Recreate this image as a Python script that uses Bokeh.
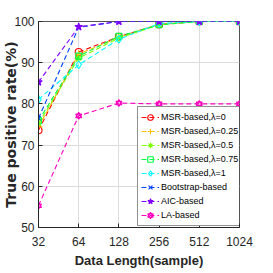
from bokeh.plotting import figure
from bokeh.models import Range1d, FixedTicker, Legend, LegendItem
from bokeh.embed import file_html
from bokeh.resources import INLINE

# ---- data ----
data_length = [32, 64, 128, 256, 512, 1024]
y_ticks = [50, 60, 70, 80, 90, 100]
msr_l0 = [73.6, 92.6, 96.3, 99.3, 100, 100]
msr_l025 = [74.4, 92.1, 96.1, 99.4, 100, 100]
msr_l05 = [75.3, 91.1, 96.0, 99.2, 100, 100]
msr_l075 = [75.9, 91.6, 96.4, 99.2, 100, 100]
msr_l1 = [81.1, 89.5, 95.7, 99.5, 100, 100]
bootstrap = [76.5, 98.6, 100, 100, 100, 100]
aic = [85.3, 98.7, 100, 100, 100, 100]
la = [55.3, 77.1, 80.2, 80.0, 80.0, 80.0]
series_names = ["MSR-based,\u03bb=0", "MSR-based,\u03bb=0.25", "MSR-based,\u03bb=0.5",
                "MSR-based,\u03bb=0.75", "MSR-based,\u03bb=1", "Bootstrap-based",
                "AIC-based", "LA-based"]
series_values = [msr_l0, msr_l025, msr_l05, msr_l075, msr_l1, bootstrap, aic, la]

colors = ["#ff0000", "#ffbf00", "#80ff00", "#00ff40", "#00ffff", "#0040ff", "#8000ff", "#ff00bf"]
markers = [["circle"], ["cross"], ["asterisk"], ["square"], ["diamond"], ["x"], ["star"],
           ["triangle", "inverted_triangle"]]
sizes = [7, 8, 7, 6, 8, 6, 8, 6]
filled = [False, False, False, False, False, False, True, False]

FONT = "Liberation Sans"
TXT = "#262626"

p = figure(width=257, height=270, x_axis_type="log",
           x_range=Range1d(32, 1024), y_range=Range1d(50, 100),
           output_backend="svg", toolbar_location=None,
           min_border_left=32, min_border_right=18, min_border_top=21, min_border_bottom=42)

items = []
for name, vals, c, mk, sz, fl in zip(series_names, series_values, colors, markers, sizes, filled):
    rs = [p.line(data_length, vals, line_color=c, line_width=1.1, line_dash="5 3")]
    for m in mk:
        rs.append(p.scatter(data_length, vals, marker=m, size=sz, line_color=c, line_width=1.1,
                            fill_color=c if fl else None))
    items.append(LegendItem(label=name, renderers=rs))

legend = Legend(items=items, location=(99, 1), border_line_color=TXT, border_line_width=1,
                background_fill_color="white", background_fill_alpha=1.0,
                label_text_font=FONT, label_text_font_size="9px",
                label_text_color="#000000",
                glyph_width=18, glyph_height=14, label_height=14, spacing=0, padding=3,
                margin=0, label_standoff=2)
p.add_layout(legend)

for ax in (p.xaxis, p.yaxis):
    ax.major_tick_in = 4
    ax.major_tick_out = 0
    ax.minor_tick_line_color = None
    ax.axis_line_color = TXT
    ax.major_tick_line_color = TXT
    ax.major_label_text_color = TXT
    ax.major_label_text_font = FONT
    ax.major_label_text_font_size = "12px"
    ax.axis_label_text_color = TXT
    ax.axis_label_text_font_style = "bold"

p.xaxis.ticker = FixedTicker(ticks=data_length)
p.xaxis.major_label_overrides = {v: str(v) for v in data_length}
p.xaxis.major_label_standoff = 9
p.xaxis.axis_label = "Data Length(sample)"
p.xaxis.axis_label_text_font = FONT
p.xaxis.axis_label_text_font_size = "13px"
p.xaxis.axis_label_standoff = 4

p.yaxis.ticker = FixedTicker(ticks=y_ticks)
p.yaxis.major_label_standoff = 4
p.yaxis.axis_label = "True positive rate(%)"
p.yaxis.axis_label_text_font = "DejaVu Sans"
p.yaxis.axis_label_text_font_size = "14px"
p.yaxis.axis_label_standoff = -8

p.xgrid.ticker = FixedTicker(ticks=data_length)
p.ygrid.ticker = FixedTicker(ticks=y_ticks)
p.grid.grid_line_color = "#dcdcdc"
p.grid.grid_line_width = 1

p.outline_line_color = "#555555"
p.outline_line_width = 1
p.background_fill_color = "white"
p.border_fill_color = "white"

open("out.html", "w").write(file_html(p, INLINE))
